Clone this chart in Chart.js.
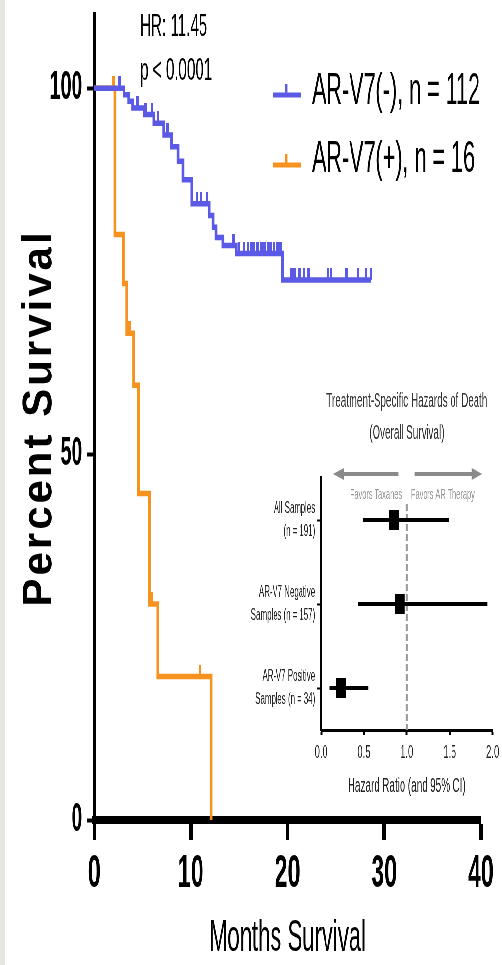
<!DOCTYPE html>
<html>
<head>
<meta charset="utf-8">
<script src="https://cdn.jsdelivr.net/npm/chart.js@4.4.1/dist/chart.umd.min.js"></script>
<style>
  html, body { margin: 0; padding: 0; background: #fff; overflow: hidden; width: 502px; height: 965px; }
  #strip { position: absolute; left: 0; top: 0; width: 5px; height: 965px; background: #e6e6e2; }
  #wrap { position: absolute; left: 0; top: 0; width: 1024px; height: 965px; transform: scaleX(0.490234); transform-origin: 0 0; }
  #km { position: absolute; left: 0; top: 0; }
  #forest { position: absolute; left: 500px; top: 370px; }
</style>
</head>
<body>
<div id="wrap">
  <canvas id="km" width="1024" height="965"></canvas>
  <canvas id="forest" width="524" height="440"></canvas>
</div>
<div id="strip"></div>
<script>
// the source figure is squeezed horizontally, so everything is drawn wide and scaled down
const SQ = 502 / 1024;
const FONT = "'Liberation Sans', Arial, Helvetica, sans-serif";

// Kaplan-Meier curves: month of each drop and survival (%) after it
const negTimes = [0, 3.1, 3.6, 4.0, 5.2, 6.2, 7.2, 8.0, 8.7, 9.2, 10.1, 11.9, 12.3, 12.6, 13.3, 14.7, 19.5, 28.6];
const negSurv = [100, 99.1, 98.2, 97.3, 96.4, 95.2, 93.6, 92.0, 90.0, 87.5, 84.2, 82.6, 81.0, 79.6, 78.5, 77.4, 73.8, 73.8];
const negCensor = [2.6, 4.5, 5.3, 6.0, 6.6, 7.6, 10.6, 11.1, 11.7, 14.4, 15.0, 15.5, 15.9, 16.2, 16.5, 16.9, 17.3,
  17.6, 18.0, 18.3, 18.6, 19.0, 19.3, 20.4, 20.7, 21.2, 21.7, 22.2, 24.2, 24.5, 26.1, 27.3, 28.1, 28.6];

const posTimes = [0, 2.15, 3.0, 3.4, 4.1, 4.6, 5.7, 6.6, 12.1];
const posSurv = [100, 80.0, 73.3, 66.5, 59.4, 44.6, 29.5, 19.6, 0];
const posCensor = [2.0, 3.7, 6.0, 11.0];

const seriesLabels = ["AR-V7(-), n = 112", "AR-V7(+), n = 16"];
const seriesColors = ["#5a5ae6", "#f7921e"];
const xTicks = [0, 10, 20, 30, 40];
const yTicks = [0, 50, 100];
const statLines = ["HR: 11.45", "p < 0.0001"];

// inset forest plot
const rowLabels = [["All Samples", "(n = 191)"], ["AR-V7 Negative", "Samples (n = 157)"], ["AR-V7 Positive", "Samples (n = 34)"]];
const hr = [0.85, 0.92, 0.23];
const ciLow = [0.49, 0.43, 0.10];
const ciHigh = [1.49, 1.94, 0.55];
const refHR = 1.0;

function pts(times, surv) {
  return times.map((t, i) => ({ x: t, y: surv[i] }));
}
function survAt(times, surv, t) {
  let s = surv[0];
  times.forEach((tt, i) => { if (tt <= t) s = surv[i]; });
  return s;
}
function censorPts(times, surv, cens) {
  return cens.map((t) => ({ x: t, y: survAt(times, surv, t) }));
}
// little upward tick used as censor mark
function tickImg(color) {
  const c = document.createElement("canvas");
  c.width = 5;
  c.height = 24;
  const g = c.getContext("2d");
  g.fillStyle = color;
  g.fillRect(0, 0, 5, 12);
  return c;
}

const kmDecor = {
  id: "kmDecor",
  afterDraw(chart) {
    const ctx = chart.ctx;
    // y title is not squeezed in the source
    ctx.save();
    ctx.translate(40 / SQ, 418);
    ctx.scale(1 / SQ, 1);
    ctx.rotate(-Math.PI / 2);
    ctx.font = "bold 42px " + FONT;
    ctx.letterSpacing = "3px";
    ctx.fillStyle = "#000";
    ctx.textAlign = "center";
    ctx.textBaseline = "middle";
    ctx.fillText("Percent Survival", 0, 0);
    ctx.restore();

    ctx.save();
    ctx.fillStyle = "#000";
    ctx.textBaseline = "middle";
    ctx.font = "31px " + FONT;
    ctx.fillText(statLines[0], 140 / SQ, 27);
    ctx.fillText(statLines[1], 140 / SQ, 71);

    // legend
    const lineY = [95, 165];
    const textY = [92, 160];
    seriesLabels.forEach((lab, i) => {
      ctx.strokeStyle = seriesColors[i];
      ctx.fillStyle = seriesColors[i];
      ctx.lineWidth = 5;
      ctx.beginPath();
      ctx.moveTo(273 / SQ, lineY[i]);
      ctx.lineTo(301 / SQ, lineY[i]);
      ctx.stroke();
      ctx.fillRect(286 / SQ - 2, lineY[i] - 11, 5, 11);
      ctx.fillStyle = "#000";
      ctx.font = "44px " + FONT;
      ctx.fillText(lab, 312 / SQ, textY[i]);
    });
    ctx.restore();
  },
};

new Chart(document.getElementById("km"), {
  type: "line",
  data: {
    datasets: [
      { type: "scatter", data: censorPts(negTimes, negSurv, negCensor), pointStyle: tickImg(seriesColors[0]), pointRadius: 3, showLine: false },
      { label: seriesLabels[0], data: pts(negTimes, negSurv), borderColor: seriesColors[0], borderWidth: 5.5, stepped: true, pointRadius: 0, fill: false },
      { type: "scatter", data: censorPts(posTimes, posSurv, posCensor), pointStyle: tickImg(seriesColors[1]), pointRadius: 3, showLine: false },
      { label: seriesLabels[1], data: pts(posTimes, posSurv), borderColor: seriesColors[1], borderWidth: 5.5, stepped: true, pointRadius: 0, fill: false },
    ],
  },
  options: {
    responsive: false,
    animation: false,
    layout: { padding: { top: 15, right: 43, left: 0, bottom: 0 } },
    plugins: { legend: { display: false }, tooltip: { enabled: false } },
    scales: {
      x: {
        type: "linear",
        min: 0,
        max: 40,
        afterBuildTicks(s) { s.ticks = xTicks.map((v) => ({ value: v })); },
        ticks: { color: "#000", font: { family: FONT, size: 47, weight: "bold" }, padding: 6, maxRotation: 0 },
        grid: { drawOnChartArea: false, tickLength: 20, tickWidth: 7, tickColor: "#000" },
        border: { width: 8, color: "#000" },
        title: { display: true, text: "Months Survival", color: "#000", font: { family: FONT, size: 45, lineHeight: 1 }, padding: { top: 0, bottom: 4 } },
        afterFit(s) { s.height = 145; },
      },
      y: {
        min: 0,
        max: 110,
        afterBuildTicks(s) { s.ticks = yTicks.map((v) => ({ value: v })); },
        ticks: { color: "#000", font: { family: FONT, size: 40, weight: "bold" }, padding: 10 },
        grid: { drawOnChartArea: false, tickLength: 14, tickWidth: 4, tickColor: "#000" },
        border: { width: 6, color: "#000" },
        afterFit(s) {
          s.width = 192;
          s.paddingTop = 0;
          s.paddingBottom = 0;
        },
      },
    },
  },
  plugins: [kmDecor],
});

const forestDecor = {
  id: "forestDecor",
  beforeDatasetsDraw(chart) {
    const { ctx, chartArea: a, scales } = chart;
    const px = scales.x.getPixelForValue(refHR);
    ctx.save();
    ctx.strokeStyle = "#999";
    ctx.lineWidth = 4;
    ctx.setLineDash([7, 3]);
    ctx.beginPath();
    ctx.moveTo(px, a.top + 26);
    ctx.lineTo(px, a.bottom);
    ctx.stroke();
    ctx.restore();
  },
  afterDraw(chart) {
    const { ctx, chartArea: a, scales } = chart;
    const x = scales.x;
    const ay = a.top - 4;
    ctx.save();
    ctx.strokeStyle = "#8a8a8a";
    ctx.fillStyle = "#8a8a8a";
    ctx.lineWidth = 4;
    const arrow = (from, to) => {
      const x0 = x.getPixelForValue(from);
      const x1 = x.getPixelForValue(to);
      const dir = Math.sign(x1 - x0);
      ctx.beginPath();
      ctx.moveTo(x0, ay);
      ctx.lineTo(x1 - dir * 16, ay);
      ctx.stroke();
      ctx.beginPath();
      ctx.moveTo(x1, ay);
      ctx.lineTo(x1 - dir * 22, ay - 6);
      ctx.lineTo(x1 - dir * 22, ay + 6);
      ctx.closePath();
      ctx.fill();
    };
    arrow(0.9, 0.14);
    arrow(1.09, 1.88);
    ctx.fillStyle = "#999";
    ctx.font = "15px " + FONT;
    ctx.textAlign = "center";
    ctx.textBaseline = "middle";
    ctx.fillText("Favors Taxanes", x.getPixelForValue(0.64), a.top + 17);
    ctx.fillText("Favors AR Therapy", x.getPixelForValue(1.42), a.top + 17);
    ctx.restore();
  },
};

new Chart(document.getElementById("forest"), {
  type: "line",
  data: {
    datasets: [
      { type: "scatter", data: hr.map((v, i) => ({ x: v, y: i + 1 })), pointStyle: "rect", pointRadius: 14, backgroundColor: "#000", borderColor: "#000", borderWidth: 0 },
      ...hr.map((_, i) => ({
        data: [{ x: ciLow[i], y: i + 1 }, { x: ciHigh[i], y: i + 1 }],
        borderColor: "#000",
        borderWidth: 4,
        pointRadius: 0,
      })),
    ],
  },
  options: {
    responsive: false,
    animation: false,
    layout: { padding: { left: 0, right: 16, top: 0, bottom: 0 } },
    plugins: {
      legend: { display: false },
      tooltip: { enabled: false },
      title: {
        display: true,
        fullSize: false,
        text: ["Treatment-Specific Hazards of Death", "(Overall Survival)"],
        color: "#333",
        font: { family: FONT, size: 20, weight: "normal", lineHeight: 1.6 },
        padding: { top: 15, bottom: 29 },
      },
    },
    scales: {
      x: {
        type: "linear",
        min: 0,
        max: 2,
        ticks: { stepSize: 0.5, callback: (v) => v.toFixed(1), color: "#222", font: { family: FONT, size: 19 }, padding: 6 },
        grid: { drawOnChartArea: false, tickLength: 5, tickWidth: 4, tickColor: "#000" },
        border: { width: 3, color: "#000" },
        title: { display: true, text: "Hazard Ratio (and 95% CI)", color: "#222", font: { family: FONT, size: 20, lineHeight: 1.2 }, padding: { top: 0, bottom: 12 } },
        afterFit(s) { s.height = 80; },
      },
      y: {
        type: "linear",
        min: 0.5,
        max: 3.5,
        reverse: true,
        afterBuildTicks(s) { s.ticks = rowLabels.map((_, i) => ({ value: i + 1 })); },
        ticks: { callback: (v, i) => rowLabels[i], color: "#222", font: { family: FONT, size: 16, lineHeight: 1.4 }, padding: 4 },
        grid: { drawOnChartArea: false, tickLength: 8, tickWidth: 2, tickColor: "#000" },
        border: { width: 4, color: "#000" },
        afterFit(s) { s.width = 155; },
      },
    },
  },
  plugins: [forestDecor],
});
</script>
</body>
</html>
